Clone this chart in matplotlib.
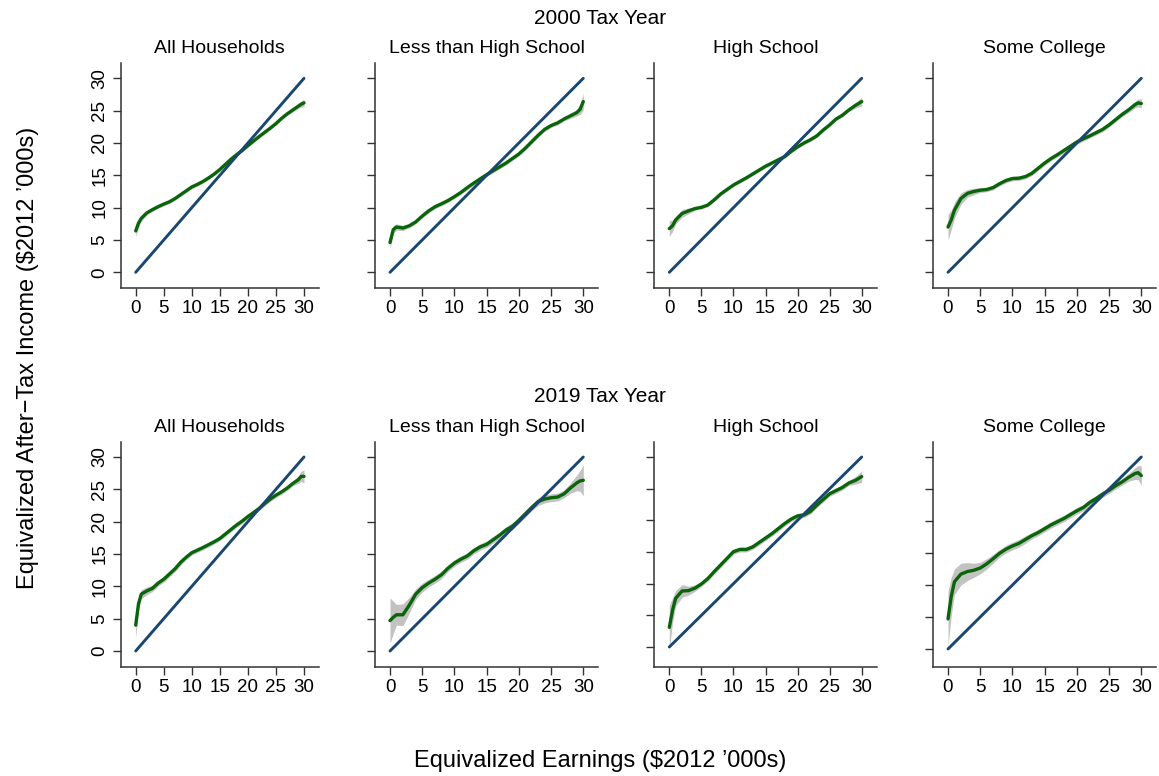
import matplotlib
matplotlib.use("Agg")
import matplotlib.pyplot as plt

plt.rcParams['font.family'] = ['Liberation Sans', 'DejaVu Sans']

# ---- data -------------------------------------------------------------
earnings = [0, 0.5, 1, 2, 3, 4, 5, 6, 7, 8, 9, 10, 11, 12, 13, 14, 15, 16,
            17, 18, 19, 20, 21, 22, 23, 24, 25, 26, 27, 28, 29, 29.5, 30]
diagonal = [0, 30]

years = ["2000 Tax Year", "2019 Tax Year"]
groups = ["All Households", "Less than High School", "High School", "Some College"]
x_ticks = [0, 5, 10, 15, 20, 25, 30]
y_ticks = [0, 5, 10, 15, 20, 25, 30]

# smoothed after-tax income, $2012 '000s
inc_2000_all = [6.4, 7.6, 8.35, 9.2, 9.7, 10.15, 10.55, 10.9, 11.4, 12.0, 12.6, 13.2, 13.6, 14.05,
                14.6, 15.2, 15.9, 16.7, 17.5, 18.2, 18.85, 19.6, 20.3, 21.0, 21.65, 22.3, 23.0,
                23.8, 24.5, 25.1, 25.7, 26.0, 26.2]
inc_2000_lhs = [4.6, 6.6, 7.0, 6.85, 7.2, 7.8, 8.7, 9.5, 10.15, 10.6, 11.1, 11.7, 12.35, 13.1,
                13.8, 14.45, 15.1, 15.7, 16.3, 16.9, 17.6, 18.3, 19.2, 20.2, 21.2, 22.1, 22.7,
                23.1, 23.7, 24.2, 24.7, 25.2, 26.4]
inc_2000_hs = [6.75, 7.2, 8.1, 9.1, 9.5, 9.85, 10.05, 10.4, 11.2, 12.1, 12.8, 13.5, 14.05, 14.6,
               15.2, 15.8, 16.4, 16.9, 17.4, 17.9, 18.7, 19.4, 20.0, 20.5, 21.1, 22.0, 22.8,
               23.7, 24.3, 25.1, 25.8, 26.1, 26.4]
inc_2000_sc = [7.0, 8.1, 9.6, 11.4, 12.2, 12.5, 12.7, 12.8, 13.1, 13.7, 14.2, 14.5, 14.55, 14.8,
               15.3, 16.1, 16.9, 17.6, 18.2, 18.85, 19.5, 20.15, 20.65, 21.1, 21.6, 22.1, 22.8,
               23.6, 24.4, 25.1, 25.9, 26.2, 26.1]
inc_2019_all = [4.0, 7.3, 8.8, 9.3, 9.7, 10.5, 11.1, 11.9, 12.7, 13.7, 14.5, 15.2, 15.6, 16.0,
                16.45, 16.9, 17.4, 18.1, 18.8, 19.5, 20.1, 20.8, 21.4, 22.05, 22.8, 23.5, 24.1,
                24.6, 25.2, 25.9, 26.5, 27.0, 27.0]
inc_2019_lhs = [4.7, 5.2, 5.6, 5.6, 7.1, 8.8, 9.8, 10.5, 11.1, 11.8, 12.8, 13.6, 14.2, 14.7,
                15.5, 16.1, 16.5, 17.2, 17.9, 18.7, 19.3, 20.2, 21.2, 22.2, 23.1, 23.5, 23.7,
                23.8, 24.3, 25.2, 26.0, 26.3, 26.4]
inc_2019_hs = [3.1, 5.8, 7.7, 8.85, 8.9, 9.3, 9.95, 10.8, 11.9, 12.95, 14.0, 15.05, 15.4, 15.4,
               15.8, 16.5, 17.2, 17.9, 18.7, 19.5, 20.2, 20.7, 20.85, 21.4, 22.4, 23.3, 24.2,
               24.7, 25.2, 25.9, 26.3, 26.6, 26.9]
inc_2019_sc = [4.7, 8.2, 10.5, 11.7, 12.1, 12.3, 12.65, 13.3, 14.1, 14.95, 15.6, 16.1, 16.5, 17.1,
               17.7, 18.2, 18.8, 19.4, 19.9, 20.4, 21.0, 21.6, 22.1, 22.9, 23.5, 24.2, 24.8,
               25.5, 26.1, 26.8, 27.4, 27.55, 27.1]

# half-width of the 95% confidence band
ci_2000_all = [0.9, 0.6, 0.4, 0.3, 0.25, 0.25, 0.25, 0.25, 0.25, 0.25, 0.25, 0.25, 0.25, 0.25,
               0.25, 0.25, 0.25, 0.25, 0.25, 0.25, 0.25, 0.25, 0.25, 0.25, 0.25, 0.25, 0.25,
               0.25, 0.25, 0.3, 0.35, 0.45, 0.6]
ci_2000_lhs = [1.0, 0.6, 0.5, 0.4, 0.3, 0.3, 0.3, 0.3, 0.3, 0.3, 0.3, 0.3, 0.3, 0.3,
               0.3, 0.3, 0.3, 0.3, 0.3, 0.3, 0.3, 0.3, 0.3, 0.3, 0.3, 0.3, 0.3,
               0.3, 0.3, 0.4, 0.5, 0.8, 1.3]
ci_2000_hs = [1.2, 0.9, 0.6, 0.6, 0.45, 0.25, 0.25, 0.25, 0.25, 0.25, 0.25, 0.25, 0.25, 0.25,
              0.25, 0.25, 0.25, 0.25, 0.25, 0.25, 0.25, 0.25, 0.25, 0.25, 0.25, 0.25, 0.25,
              0.25, 0.25, 0.25, 0.4, 0.55, 0.7]
ci_2000_sc = [2.0, 1.5, 1.2, 0.9, 0.6, 0.5, 0.35, 0.35, 0.35, 0.35, 0.35, 0.35, 0.35, 0.35,
              0.35, 0.35, 0.35, 0.35, 0.35, 0.35, 0.35, 0.35, 0.35, 0.35, 0.35, 0.35, 0.35,
              0.35, 0.35, 0.4, 0.5, 0.6, 0.7]
ci_2019_all = [2.0, 1.0, 0.7, 0.6, 0.5, 0.45, 0.45, 0.45, 0.45, 0.45, 0.35, 0.35, 0.35, 0.35,
               0.35, 0.35, 0.35, 0.35, 0.35, 0.35, 0.35, 0.35, 0.35, 0.35, 0.35, 0.35, 0.35,
               0.35, 0.35, 0.35, 0.6, 0.8, 1.0]
ci_2019_lhs = [3.5, 2.5, 1.6, 1.7, 1.2, 0.8, 0.7, 0.6, 0.6, 0.6, 0.5, 0.5, 0.5, 0.5,
               0.5, 0.5, 0.5, 0.5, 0.5, 0.5, 0.5, 0.5, 0.5, 0.5, 0.6, 0.6, 0.6,
               0.6, 0.6, 0.8, 1.2, 1.6, 2.4]
ci_2019_hs = [3.5, 2.0, 1.2, 1.0, 0.7, 0.5, 0.4, 0.4, 0.4, 0.4, 0.4, 0.4, 0.4, 0.4,
              0.4, 0.4, 0.4, 0.4, 0.4, 0.4, 0.4, 0.4, 0.4, 0.4, 0.4, 0.4, 0.4,
              0.4, 0.4, 0.4, 0.6, 0.75, 0.9]
ci_2019_sc = [4.3, 3.0, 2.0, 1.7, 1.4, 1.1, 0.9, 0.8, 0.7, 0.6, 0.6, 0.6, 0.6, 0.6,
              0.5, 0.5, 0.5, 0.5, 0.5, 0.5, 0.5, 0.5, 0.5, 0.5, 0.5, 0.5, 0.5,
              0.5, 0.5, 0.6, 0.9, 1.1, 1.5]

income = [[inc_2000_all, inc_2000_lhs, inc_2000_hs, inc_2000_sc],
          [inc_2019_all, inc_2019_lhs, inc_2019_hs, inc_2019_sc]]
ci_half = [[ci_2000_all, ci_2000_lhs, ci_2000_hs, ci_2000_sc],
           [ci_2019_all, ci_2019_lhs, ci_2019_hs, ci_2019_sc]]

# ---- layout (pixels) ----------------------------------------------------
W, H = 1159, 776
col_x0 = [135.7, 390.0, 669.3, 948.0]
col_x30 = [304.0, 583.3, 861.7, 1141.3]
row_y30 = [78.3, 457.0]
panel_y0 = [[272.3, 272.3, 272.3, 272.3], [651.0, 651.0, 647.0, 649.0]]
row_bottom = [287.5, 666.5]
PAD = 15.0

GREEN = '#0a640a'
NAVY = '#1a476f'
BAND = '#c2c2c2'
AXIS = '#333333'

fig = plt.figure(figsize=(W / 100, H / 100), dpi=100)

for r in range(2):
    for c in range(4):
        x0, x30 = col_x0[c], col_x30[c]
        y30, y0 = row_y30[r], panel_y0[r][c]
        bottom = row_bottom[r]
        ppx = (x30 - x0) / 30.0
        ppy = (y0 - y30) / 30.0
        left_px, right_px = x0 - PAD, x30 + PAD
        top_px = y30 - PAD
        ax = fig.add_axes([left_px / W, 1 - bottom / H,
                           (right_px - left_px) / W, (bottom - top_px) / H])
        ax.set_xlim(-PAD / ppx, 30 + PAD / ppx)
        ax.set_ylim(-(bottom - y0) / ppy, 30 + PAD / ppy)

        y = income[r][c]
        h = ci_half[r][c]
        lo = [a - b for a, b in zip(y, h)]
        hi = [a + b for a, b in zip(y, h)]
        ax.fill_between(earnings, lo, hi, color=BAND, lw=0, zorder=1)
        ax.plot(earnings, y, color=GREEN, lw=2.4, solid_capstyle='round', zorder=2)
        ax.plot(diagonal, diagonal, color=NAVY, lw=2.1, solid_capstyle='round', zorder=3)

        for side in ('top', 'right'):
            ax.spines[side].set_visible(False)
        for side in ('left', 'bottom'):
            ax.spines[side].set_color(AXIS)
            ax.spines[side].set_linewidth(1.1)
        ax.set_xticks(x_ticks)
        ax.set_yticks(y_ticks)
        ax.tick_params(axis='both', direction='out', length=6, width=1.0,
                       color=AXIS, labelsize=13.5, labelcolor='black')
        ax.tick_params(axis='x', pad=3)
        ax.tick_params(axis='y', pad=3)
        if c == 0:
            ax.set_yticklabels([str(v) for v in y_ticks], rotation=90, va='center')
        else:
            ax.set_yticklabels([])
        ax.set_title(groups[c], fontsize=14, pad=7.5)

fig.text(600 / W, 1 - 24 / H, years[0], ha='center', va='baseline', fontsize=15)
fig.text(600 / W, 1 - 402 / H, years[1], ha='center', va='baseline', fontsize=15)
fig.text(600 / W, 1 - 767 / H, "Equivalized Earnings ($2012 \u2019000s)",
         ha='center', va='baseline', fontsize=17)
fig.text(28 / W, 1 - 358 / H, "Equivalized After\u2212Tax Income ($2012 \u2019000s)",
         ha='center', va='center', rotation=90, fontsize=17)

fig.savefig("out.png", dpi=100)
